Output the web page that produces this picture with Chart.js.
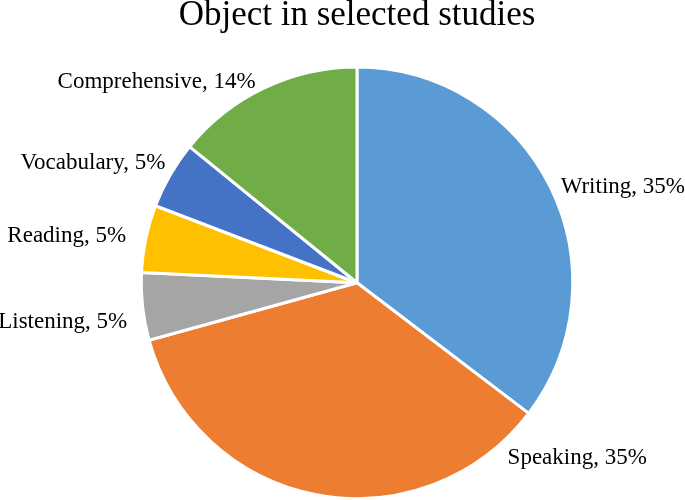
<!DOCTYPE html>
<html>
<head>
<meta charset="utf-8">
<script src="https://cdn.jsdelivr.net/npm/chart.js@4"></script>
<style>
html,body{margin:0;padding:0;background:#fff;}
#wrap{width:685px;height:500px;position:relative;}
</style>
</head>
<body>
<div id="wrap"><canvas id="c" width="685" height="500"></canvas></div>
<script>
const categories = ["Writing", "Speaking", "Listening", "Reading", "Vocabulary", "Comprehensive"];
const percentages = [35, 35, 5, 5, 5, 14];
const sliceColors = ["#5B9BD5", "#ED7D31", "#A5A5A5", "#FFC000", "#4472C4", "#70AD47"];
const chartTitle = "Object in selected studies";
// label anchor offsets, in units of pie radius relative to the centre, and alignment
const labelOffsets = [
  {dx: 0.944, dy: -0.445, align: "left"},
  {dx: 0.698, dy: 0.81, align: "left"},
  {dx: -1.065, dy: 0.182, align: "right"},
  {dx: -1.07, dy: -0.218, align: "right"},
  {dx: -0.888, dy: -0.553, align: "right"},
  {dx: -0.47, dy: -0.93, align: "right"}
];

const labelPlugin = {
  id: "sliceLabels",
  afterDatasetsDraw(chart) {
    const ctx = chart.ctx;
    const meta = chart.getDatasetMeta(0);
    ctx.save();
    ctx.font = "23px 'Liberation Serif', 'Times New Roman', serif";
    ctx.fillStyle = "#000";
    ctx.textBaseline = "middle";
    meta.data.forEach((arc, i) => {
      const p = arc.getProps(["x", "y", "outerRadius"], true);
      const o = labelOffsets[i];
      ctx.textAlign = o.align;
      const txt = chart.data.labels[i] + ", " + chart.data.datasets[0].data[i] + "%";
      ctx.fillText(txt, p.x + o.dx * p.outerRadius, p.y + o.dy * p.outerRadius);
    });
    ctx.restore();
  }
};

new Chart(document.getElementById("c"), {
  type: "pie",
  data: {
    labels: categories,
    datasets: [{
      data: percentages,
      backgroundColor: sliceColors,
      borderColor: "#ffffff",
      borderWidth: 3
    }]
  },
  options: {
    responsive: false,
    animation: false,
    events: [],
    layout: {padding: {left: 29, right: 0, top: 0, bottom: 0}},
    plugins: {
      legend: {display: false},
      tooltip: {enabled: false},
      title: {
        display: true,
        text: chartTitle,
        color: "#000",
        font: {family: "'Liberation Serif', 'Times New Roman', serif", size: 35, weight: "normal", lineHeight: 0.9},
        padding: {top: 0, bottom: 34}
      }
    }
  },
  plugins: [labelPlugin]
});
</script>
</body>
</html>
